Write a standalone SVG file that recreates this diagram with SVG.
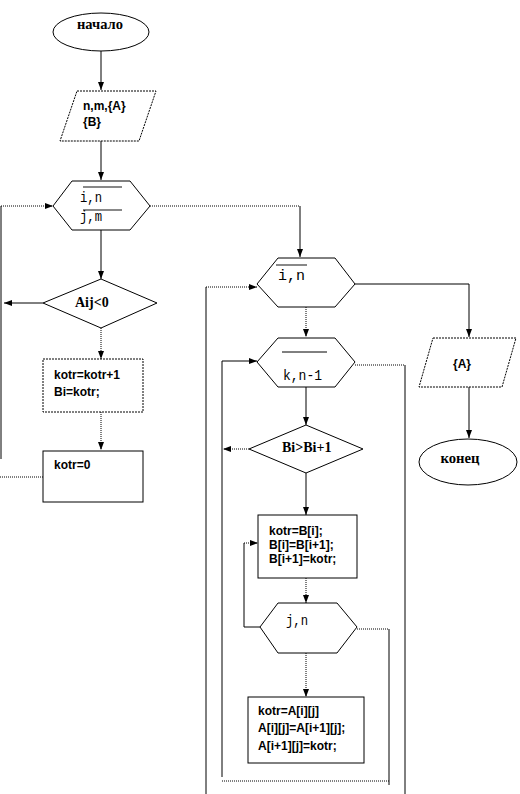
<svg xmlns="http://www.w3.org/2000/svg" width="520" height="794" viewBox="0 0 520 794">
<style>
.s{fill:#fff;stroke:#000;stroke-width:1}
.sd{fill:#fff;stroke:#000;stroke-width:1;stroke-dasharray:2 1}
.c{fill:none;stroke:#000;stroke-width:1}
.cd{fill:none;stroke:#000;stroke-width:1;stroke-dasharray:1 1}
.a{marker-end:url(#ah)}
.tb{font-family:"Liberation Serif",serif;font-weight:bold;font-size:14px;fill:#000}
.ts{font-family:"Liberation Sans",Arial,sans-serif;font-weight:bold;font-size:12px;fill:#000}
.tm{font-family:"Liberation Mono",monospace;font-size:14px;fill:#000}
.ol{stroke:#000;stroke-width:1}
.og{stroke:#888;stroke-width:2}
</style>
<defs>
<marker id="ah" viewBox="0 0 8 8" refX="8" refY="4" markerWidth="8" markerHeight="8" orient="auto" markerUnits="userSpaceOnUse">
<path d="M0,1 L8,4 L0,7 z" fill="#000"/>
</marker>
</defs>
<g id="connectors">
<path class="c a" d="M101,51 V90"/>
<path class="c a" d="M101,141 V180"/>
<path class="cd" d="M150,206 H300"/>
<path class="c a" d="M300,206 V257"/>
<path class="c" d="M1,459 V206"/>
<path class="cd a" d="M1,206 H53"/>
<path class="cd" d="M0,477 H43"/>
<path class="c a" d="M101,230 V279"/>
<path class="c a" d="M43,303 H4"/>
<path class="cd a" d="M101,328 V359"/>
<path class="cd a" d="M101,412 V450"/>
<path class="c" d="M355,284 H469"/>
<path class="c a" d="M469,284 V337"/>
<path class="c a" d="M469,387 V438"/>
<path class="c" d="M206,794 V287"/>
<path class="cd a" d="M206,287 H257"/>
<path class="cd a" d="M306,307 V337"/>
<path class="c" d="M222,777 V361"/>
<path class="c a" d="M222,361 H257"/>
<path class="cd" d="M355,365 H405"/>
<path class="c" d="M405,365 V794"/>
<path class="c a" d="M306,387 V425"/>
<path class="cd a" d="M249,449 H223"/>
<path class="c a" d="M306,473 V515"/>
<path class="cd a" d="M306,578 V603"/>
<path class="c" d="M260,627 H244 V543"/>
<path class="cd a" d="M244,543 H258"/>
<path class="cd" d="M357,629 H389"/>
<path class="c" d="M389,629 V785"/>
<path class="cd" d="M222,781 H389"/>
<path class="cd a" d="M306,653 V697"/>
</g>
<g id="start">
<ellipse class="s" cx="101" cy="32" rx="48" ry="19"/>
<text class="tb" x="100" y="29" text-anchor="middle" font-size="15" textLength="46" lengthAdjust="spacingAndGlyphs">начало</text>
</g>
<g id="input">
<polygon class="sd" points="77,91 156,91 139,141 60,141"/>
<text class="ts" x="83" y="110" font-size="13">n,m,{A}</text>
<text class="ts" x="83" y="126" font-size="13">{B}</text>
</g>
<g id="loop-ij">
<polygon class="s" points="53,206 72,181 130,181 150,206 130,230 72,230"/>
<line class="og" x1="83" y1="187" x2="122" y2="187"/>
<text class="tm" x="80" y="202" textLength="22" lengthAdjust="spacingAndGlyphs">i,n</text>
<line class="og" x1="83" y1="210" x2="122" y2="210"/>
<text class="tm" x="80" y="221" textLength="22" lengthAdjust="spacingAndGlyphs">j,m</text>
</g>
<g id="cond-aij">
<polygon class="s" points="101,279 157,303 101,328 43,303"/>
<text class="tb" x="75" y="307">Aij&lt;0</text>
</g>
<g id="box-inc">
<rect class="sd" x="43" y="359" width="100" height="53"/>
<text class="ts" x="54" y="379">kotr=kotr+1</text>
<text class="ts" x="54" y="396">Bi=kotr;</text>
</g>
<g id="box-zero">
<rect class="s" x="43" y="451" width="100" height="51"/>
<text class="ts" x="54" y="469">kotr=0</text>
</g>
<g id="loop-i">
<polygon class="s" points="257,284 278,258 335,258 355,284 335,307 278,307"/>
<line class="og" x1="276" y1="265" x2="307" y2="265"/>
<text class="tm" x="278" y="280" textLength="27" lengthAdjust="spacingAndGlyphs">i,n</text>
</g>
<g id="output">
<polygon class="sd" points="433,338 516,338 502,387 419,387"/>
<text class="ts" x="453" y="368" font-size="13">{A}</text>
</g>
<g id="end">
<ellipse class="s" cx="468" cy="462" rx="49" ry="23"/>
<text class="tb" x="460" y="463" text-anchor="middle" font-size="14" textLength="39" lengthAdjust="spacingAndGlyphs">конец</text>
</g>
<g id="loop-k">
<polygon class="s" points="257,362 278,338 335,338 355,362 335,387 278,387"/>
<line class="ol" x1="282" y1="352" x2="327" y2="352"/>
<text class="tm" x="283" y="380" font-size="17" textLength="39" lengthAdjust="spacingAndGlyphs">k,n-1</text>
</g>
<g id="cond-b">
<polygon class="s" points="306,425 363,449 306,473 249,449"/>
<text class="tb" x="282" y="452">Bi&gt;Bi+1</text>
</g>
<g id="box-swap-b">
<rect class="s" x="258" y="515" width="99" height="63"/>
<text class="ts" x="269" y="535" font-size="11">kotr=B[i];</text>
<text class="ts" x="269" y="549" font-size="11">B[i]=B[i+1];</text>
<text class="ts" x="269" y="563" font-size="11">B[i+1]=kotr;</text>
</g>
<g id="loop-j">
<polygon class="s" points="260,627 278,603 337,603 357,627 337,653 278,653"/>
<text class="tm" x="286" y="625" textLength="22" lengthAdjust="spacingAndGlyphs">j,n</text>
</g>
<g id="box-swap-a">
<rect class="s" x="248" y="697" width="116" height="66"/>
<text class="ts" x="258" y="715" font-size="13.5">kotr=A[i][j]</text>
<text class="ts" x="258" y="732" font-size="13.5">A[i][j]=A[i+1][j];</text>
<text class="ts" x="258" y="750" font-size="13.5">A[i+1][j]=kotr;</text>
</g>
</svg>
